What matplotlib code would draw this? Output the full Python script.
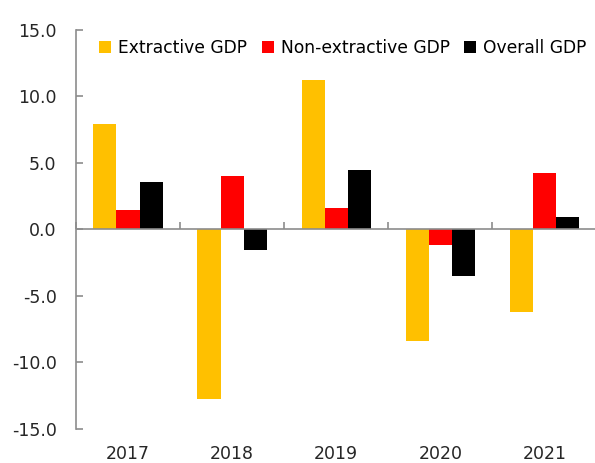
import matplotlib
matplotlib.use("Agg")
import matplotlib.pyplot as plt
import numpy as np
from matplotlib.patches import Patch

years = ["2017", "2018", "2019", "2020", "2021"]
extractive = [7.9, -12.8, 11.2, -8.4, -6.2]
non_extractive = [1.45, 4.0, 1.6, -1.2, 4.25]
overall = [3.55, -1.6, 4.45, -3.5, 0.95]
series_names = ["Extractive GDP", "Non-extractive GDP", "Overall GDP"]
colors = ["#FFC000", "#FF0000", "#000000"]
yticks = [15, 10, 5, 0, -5, -10, -15]

plt.rcParams['font.family'] = ['DejaVu Sans']
fig = plt.figure(figsize=(5.95, 4.63), dpi=100)
ax = fig.add_axes([0.1277, 0.074, 0.875, 0.862])

x = np.arange(len(years))
w = 0.222
for i, (vals, c) in enumerate(zip([extractive, non_extractive, overall], colors)):
    ax.bar(x + (i - 1) * w, vals, width=w, color=c, zorder=2)

ax.set_xlim(-0.5, len(years) - 0.5)
ax.set_ylim(-15, 15)
ax.set_yticks(yticks)
ax.set_yticklabels([f"{v:.1f}" for v in yticks], fontsize=12.5, color="#262626")
ax.tick_params(axis='y', direction='in', length=5, color="#8c8c8c", width=1.2, pad=14)

for s in ['top', 'right', 'bottom']:
    ax.spines[s].set_visible(False)
ax.spines['left'].set_color("#8c8c8c")
ax.spines['left'].set_linewidth(1.2)

ax.set_xticks(x)
ax.set_xticklabels(years, fontsize=12.5, color="#262626")
ax.tick_params(axis='x', length=0, pad=12)

ax.axhline(0, color="#8c8c8c", linewidth=1.2, zorder=3)
sec = ax.secondary_xaxis(0.5)
sec.set_xticks(np.arange(len(years) + 1) - 0.5)
sec.set_xticklabels([])
sec.tick_params(direction='out', length=5, color="#8c8c8c", width=1.2)
for s in sec.spines.values():
    s.set_visible(False)

handles = [Patch(facecolor=c, edgecolor='none') for c in colors]
ax.legend(handles, series_names, ncol=3, loc='upper left', bbox_to_anchor=(0.032, 0.993),
          frameon=False, fontsize=12.3, handlelength=0.7, handleheight=0.7,
          handletextpad=0.4, columnspacing=0.85, borderaxespad=0)

fig.savefig("out.png", dpi=100)
